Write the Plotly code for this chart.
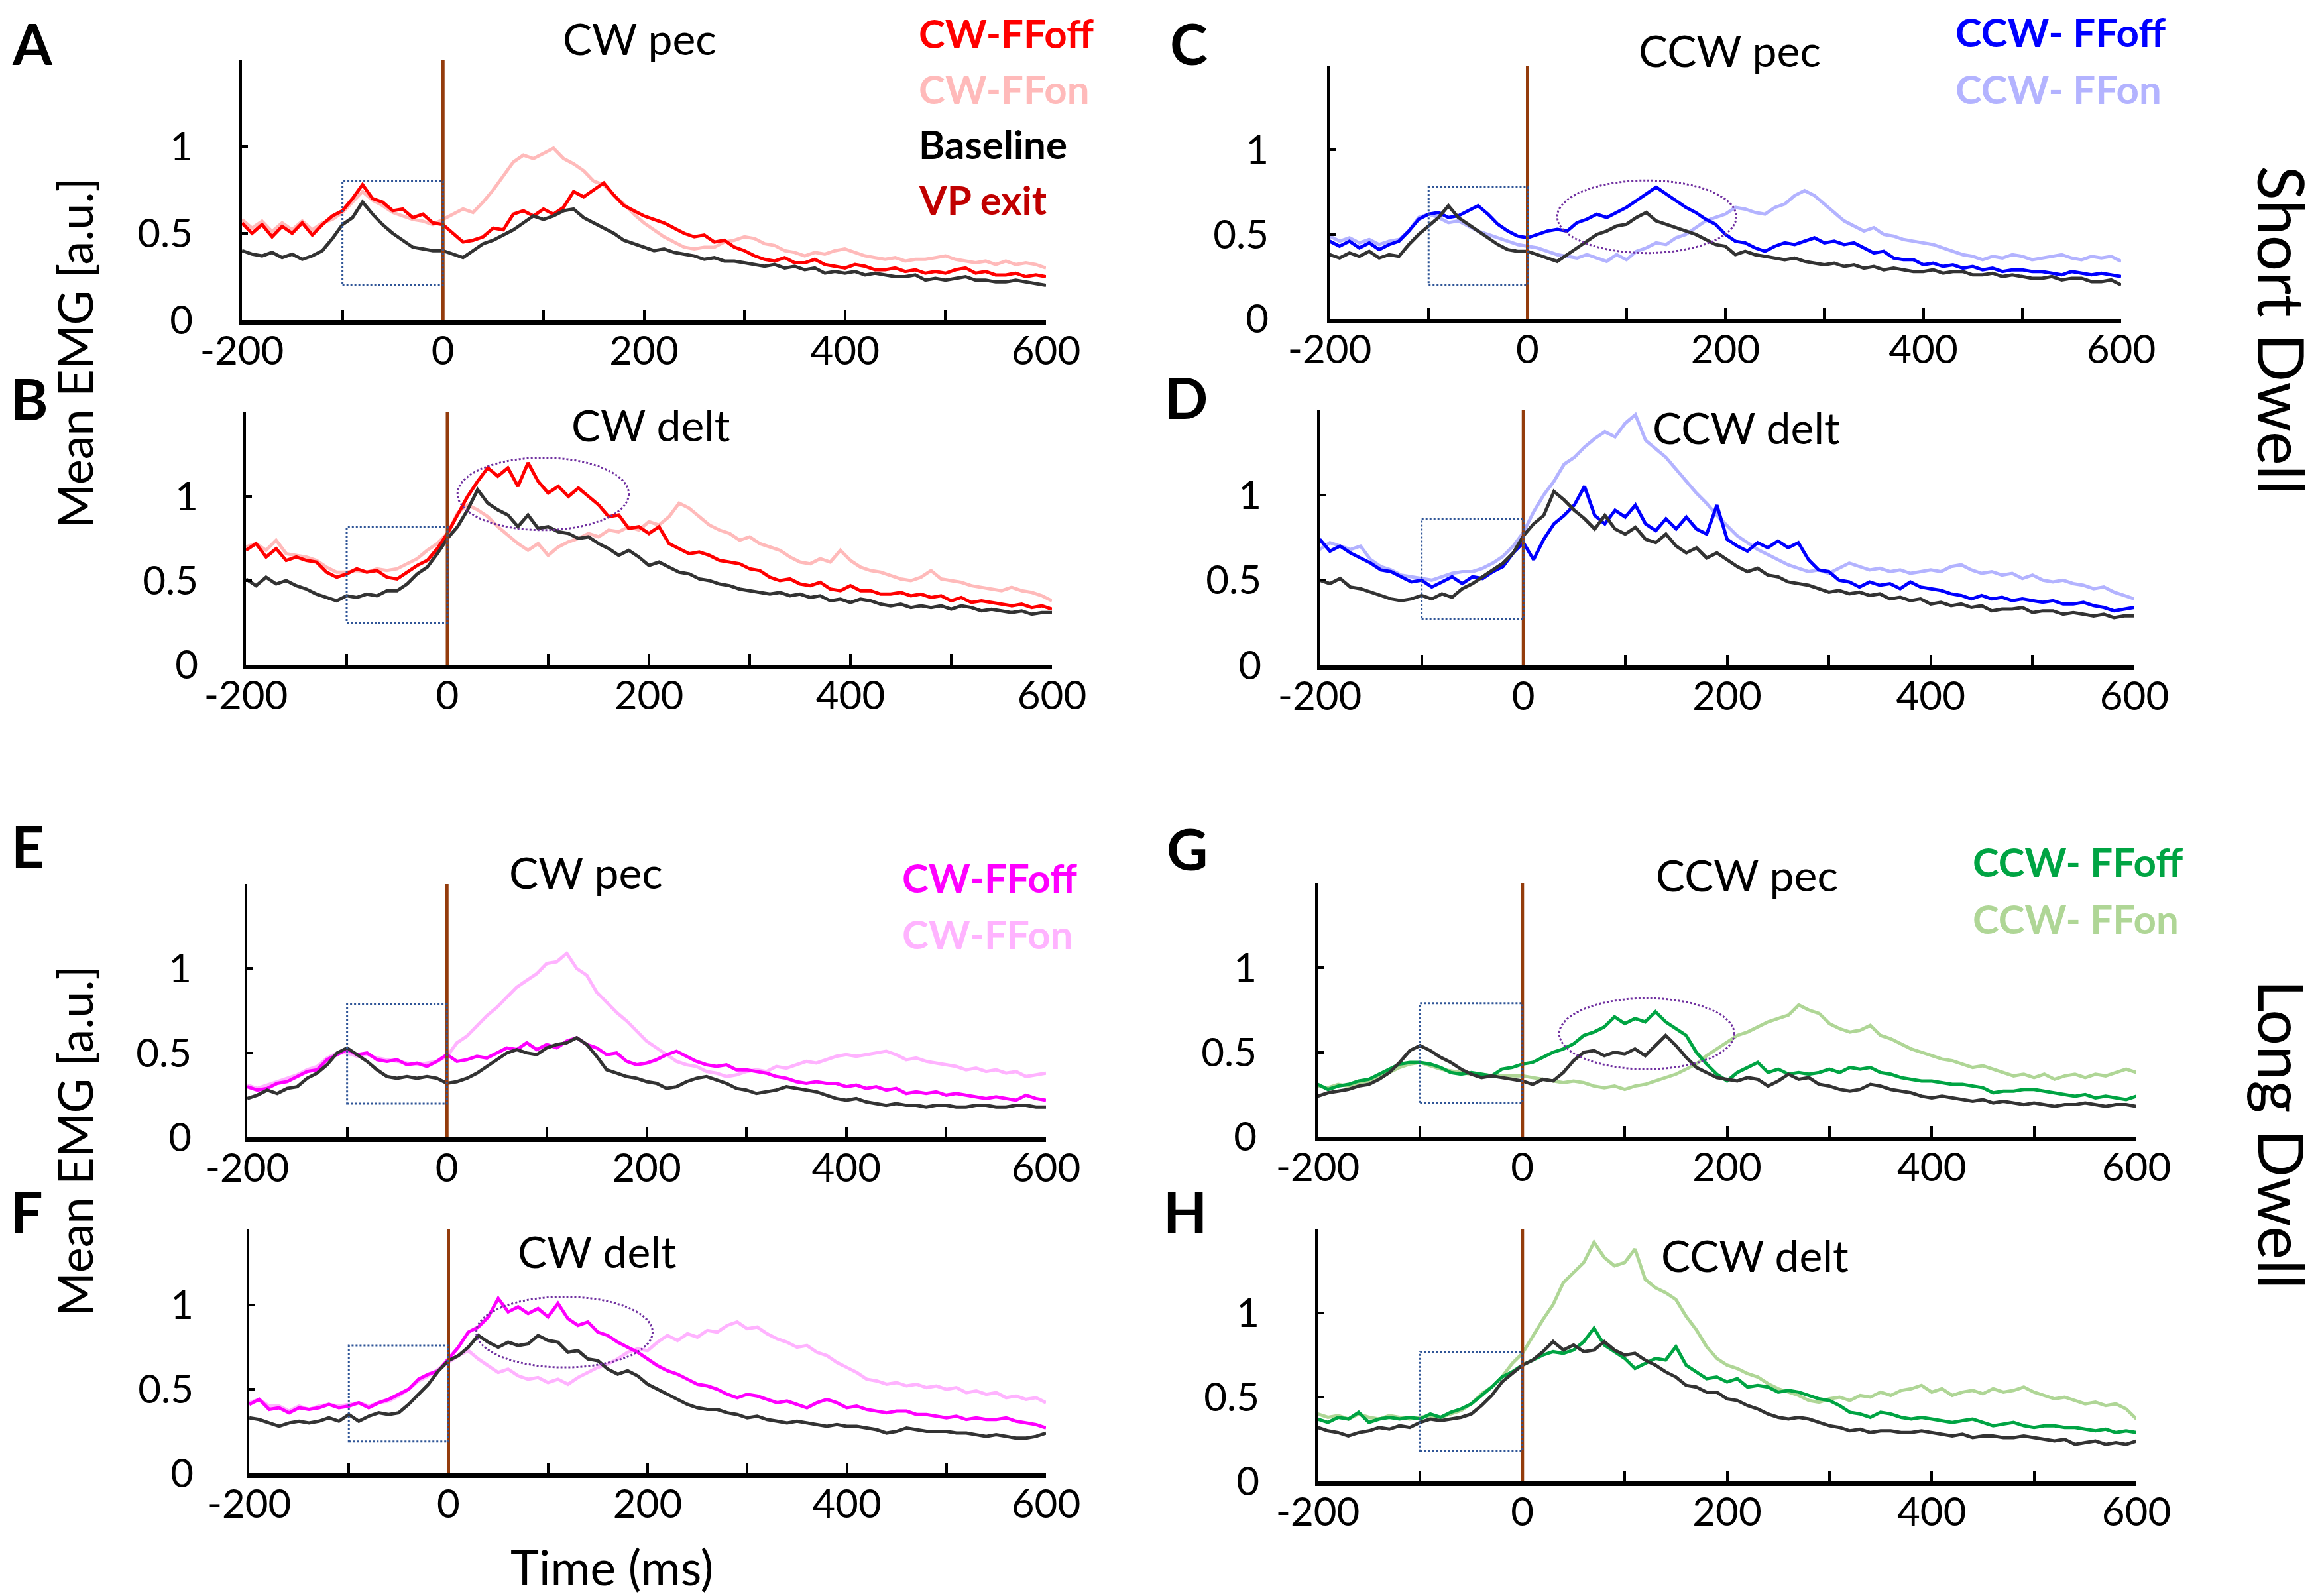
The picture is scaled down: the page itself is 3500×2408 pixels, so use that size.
import plotly.graph_objects as go

# time axis, ms (one value every 10 ms)
t = list(range(-200, 601, 10))

# ---- short dwell ----
cw_pec_short_off = [0.56, 0.50, 0.55, 0.48, 0.54, 0.50, 0.56, 0.49, 0.55, 0.60,
                    0.63, 0.70, 0.78, 0.70, 0.68, 0.63, 0.64, 0.59, 0.61, 0.56,
                    0.55, 0.50, 0.45, 0.46, 0.48, 0.53, 0.52, 0.61, 0.63, 0.60,
                    0.64, 0.61, 0.65, 0.74, 0.71, 0.75, 0.79, 0.72, 0.66, 0.63,
                    0.60, 0.58, 0.56, 0.53, 0.50, 0.48, 0.49, 0.45, 0.46, 0.42,
                    0.40, 0.37, 0.35, 0.34, 0.36, 0.33, 0.33, 0.35, 0.32, 0.31,
                    0.30, 0.32, 0.31, 0.29, 0.29, 0.30, 0.28, 0.29, 0.27, 0.28,
                    0.27, 0.29, 0.30, 0.27, 0.28, 0.26, 0.26, 0.27, 0.25, 0.26,
                    0.25]
cw_pec_short_on = [0.58, 0.53, 0.57, 0.51, 0.56, 0.52, 0.57, 0.52, 0.56, 0.58,
                   0.62, 0.68, 0.74, 0.69, 0.66, 0.62, 0.60, 0.58, 0.57, 0.55,
                   0.58, 0.61, 0.64, 0.62, 0.68, 0.75, 0.83, 0.91, 0.95, 0.93,
                   0.96, 0.99, 0.93, 0.90, 0.86, 0.80, 0.78, 0.72, 0.67, 0.61,
                   0.56, 0.52, 0.48, 0.45, 0.42, 0.41, 0.42, 0.42, 0.45, 0.46,
                   0.48, 0.47, 0.44, 0.43, 0.40, 0.39, 0.37, 0.39, 0.38, 0.40,
                   0.41, 0.39, 0.37, 0.36, 0.35, 0.36, 0.34, 0.35, 0.35, 0.36,
                   0.37, 0.35, 0.34, 0.33, 0.34, 0.32, 0.34, 0.32, 0.33, 0.32,
                   0.30]
cw_pec_short_base = [0.40, 0.38, 0.37, 0.39, 0.36, 0.38, 0.35, 0.37, 0.40, 0.47,
                     0.55, 0.59, 0.68, 0.61, 0.55, 0.50, 0.46, 0.42, 0.41, 0.40,
                     0.40, 0.38, 0.36, 0.40, 0.44, 0.46, 0.49, 0.52, 0.56, 0.60,
                     0.58, 0.60, 0.63, 0.64, 0.59, 0.56, 0.53, 0.50, 0.46, 0.44,
                     0.42, 0.40, 0.41, 0.39, 0.38, 0.37, 0.35, 0.36, 0.34, 0.34,
                     0.33, 0.32, 0.31, 0.32, 0.30, 0.31, 0.29, 0.30, 0.27, 0.28,
                     0.27, 0.28, 0.26, 0.27, 0.26, 0.25, 0.25, 0.26, 0.23, 0.24,
                     0.23, 0.24, 0.25, 0.23, 0.23, 0.22, 0.22, 0.23, 0.22, 0.21,
                     0.20]

cw_delt_short_off = [0.68, 0.72, 0.64, 0.69, 0.62, 0.64, 0.62, 0.61, 0.55, 0.52,
                     0.54, 0.57, 0.55, 0.56, 0.52, 0.51, 0.55, 0.59, 0.62, 0.69,
                     0.78, 0.89, 1.00, 1.09, 1.17, 1.12, 1.17, 1.06, 1.20, 1.09,
                     1.02, 1.06, 1.00, 1.05, 1.00, 0.95, 0.88, 0.89, 0.81, 0.82,
                     0.78, 0.82, 0.72, 0.69, 0.66, 0.67, 0.65, 0.62, 0.61, 0.60,
                     0.57, 0.56, 0.52, 0.50, 0.51, 0.48, 0.47, 0.49, 0.45, 0.44,
                     0.47, 0.44, 0.44, 0.42, 0.42, 0.43, 0.41, 0.42, 0.40, 0.41,
                     0.38, 0.40, 0.37, 0.38, 0.37, 0.36, 0.35, 0.36, 0.34, 0.35,
                     0.33]
cw_delt_short_on = [0.70, 0.72, 0.68, 0.74, 0.66, 0.65, 0.64, 0.62, 0.58, 0.55,
                    0.55, 0.56, 0.55, 0.57, 0.56, 0.57, 0.60, 0.63, 0.68, 0.72,
                    0.78, 0.90, 0.95, 0.92, 0.88, 0.82, 0.77, 0.72, 0.68, 0.72,
                    0.65, 0.70, 0.73, 0.75, 0.78, 0.76, 0.80, 0.79, 0.82, 0.80,
                    0.85, 0.83, 0.88, 0.96, 0.93, 0.88, 0.83, 0.80, 0.78, 0.74,
                    0.76, 0.72, 0.70, 0.68, 0.64, 0.61, 0.60, 0.63, 0.61, 0.68,
                    0.62, 0.58, 0.56, 0.55, 0.53, 0.51, 0.50, 0.52, 0.56, 0.51,
                    0.50, 0.49, 0.47, 0.46, 0.45, 0.44, 0.46, 0.44, 0.43, 0.41,
                    0.38]
cw_delt_short_base = [0.51, 0.47, 0.52, 0.48, 0.50, 0.47, 0.45, 0.42, 0.40, 0.38,
                      0.41, 0.40, 0.42, 0.41, 0.44, 0.44, 0.48, 0.54, 0.58, 0.66,
                      0.75, 0.82, 0.92, 1.04, 0.96, 0.92, 0.89, 0.82, 0.89, 0.81,
                      0.82, 0.79, 0.78, 0.75, 0.76, 0.72, 0.69, 0.65, 0.68, 0.64,
                      0.59, 0.61, 0.58, 0.55, 0.54, 0.51, 0.50, 0.48, 0.47, 0.45,
                      0.44, 0.43, 0.42, 0.43, 0.41, 0.42, 0.40, 0.41, 0.38, 0.39,
                      0.37, 0.39, 0.38, 0.36, 0.35, 0.36, 0.34, 0.35, 0.34, 0.35,
                      0.33, 0.35, 0.34, 0.32, 0.33, 0.32, 0.31, 0.32, 0.30, 0.31,
                      0.31]

ccw_pec_short_off = [0.46, 0.43, 0.46, 0.42, 0.45, 0.41, 0.44, 0.46, 0.52, 0.59,
                     0.62, 0.63, 0.60, 0.61, 0.64, 0.67, 0.62, 0.56, 0.52, 0.49,
                     0.48, 0.50, 0.52, 0.53, 0.52, 0.57, 0.59, 0.62, 0.60, 0.63,
                     0.66, 0.70, 0.74, 0.78, 0.74, 0.70, 0.66, 0.63, 0.59, 0.56,
                     0.50, 0.46, 0.45, 0.42, 0.40, 0.43, 0.45, 0.44, 0.46, 0.48,
                     0.45, 0.46, 0.44, 0.45, 0.42, 0.39, 0.40, 0.36, 0.35, 0.35,
                     0.32, 0.33, 0.31, 0.32, 0.30, 0.31, 0.29, 0.30, 0.28, 0.29,
                     0.29, 0.28, 0.28, 0.27, 0.26, 0.28, 0.27, 0.26, 0.27, 0.26,
                     0.25]
ccw_pec_short_on = [0.49, 0.46, 0.48, 0.45, 0.47, 0.44, 0.46, 0.47, 0.52, 0.60,
                    0.62, 0.60, 0.57, 0.58, 0.55, 0.52, 0.50, 0.48, 0.46, 0.44,
                    0.43, 0.42, 0.40, 0.38, 0.37, 0.36, 0.38, 0.36, 0.34, 0.38,
                    0.35, 0.40, 0.42, 0.45, 0.44, 0.48, 0.50, 0.54, 0.58, 0.60,
                    0.62, 0.66, 0.65, 0.63, 0.62, 0.66, 0.68, 0.73, 0.76, 0.73,
                    0.68, 0.63, 0.58, 0.55, 0.52, 0.54, 0.50, 0.49, 0.47, 0.46,
                    0.45, 0.44, 0.42, 0.40, 0.38, 0.37, 0.35, 0.37, 0.36, 0.38,
                    0.37, 0.35, 0.36, 0.37, 0.38, 0.36, 0.35, 0.37, 0.36, 0.37,
                    0.34]
ccw_pec_short_base = [0.38, 0.36, 0.39, 0.37, 0.40, 0.36, 0.38, 0.37, 0.44, 0.50,
                      0.55, 0.60, 0.67, 0.60, 0.56, 0.52, 0.48, 0.44, 0.41, 0.40,
                      0.40, 0.38, 0.36, 0.34, 0.38, 0.42, 0.46, 0.50, 0.52, 0.55,
                      0.56, 0.60, 0.63, 0.58, 0.56, 0.54, 0.52, 0.50, 0.47, 0.44,
                      0.43, 0.38, 0.40, 0.38, 0.37, 0.36, 0.35, 0.36, 0.34, 0.33,
                      0.32, 0.33, 0.31, 0.32, 0.30, 0.31, 0.29, 0.30, 0.29, 0.28,
                      0.28, 0.29, 0.27, 0.28, 0.28, 0.26, 0.26, 0.27, 0.25, 0.26,
                      0.25, 0.24, 0.24, 0.25, 0.23, 0.24, 0.24, 0.22, 0.22, 0.23,
                      0.20]

ccw_delt_short_off = [0.74, 0.67, 0.70, 0.66, 0.63, 0.60, 0.56, 0.55, 0.52, 0.49,
                      0.50, 0.46, 0.49, 0.52, 0.48, 0.52, 0.51, 0.55, 0.58, 0.66,
                      0.72, 0.62, 0.74, 0.83, 0.88, 0.94, 1.05, 0.88, 0.83, 0.91,
                      0.87, 0.94, 0.83, 0.79, 0.86, 0.80, 0.87, 0.80, 0.77, 0.94,
                      0.74, 0.70, 0.67, 0.72, 0.69, 0.73, 0.69, 0.72, 0.62, 0.56,
                      0.55, 0.50, 0.49, 0.46, 0.49, 0.47, 0.48, 0.45, 0.49, 0.46,
                      0.45, 0.44, 0.42, 0.41, 0.39, 0.41, 0.39, 0.40, 0.38, 0.39,
                      0.38, 0.37, 0.38, 0.36, 0.36, 0.37, 0.35, 0.34, 0.32, 0.33,
                      0.34]
ccw_delt_short_on = [0.68, 0.72, 0.70, 0.68, 0.70, 0.62, 0.58, 0.56, 0.53, 0.52,
                     0.51, 0.50, 0.52, 0.54, 0.55, 0.55, 0.57, 0.60, 0.64, 0.70,
                     0.78, 0.90, 1.00, 1.08, 1.18, 1.22, 1.28, 1.33, 1.37, 1.34,
                     1.42, 1.47, 1.32, 1.27, 1.22, 1.15, 1.08, 1.01, 0.95, 0.88,
                     0.82, 0.76, 0.72, 0.68, 0.65, 0.62, 0.59, 0.57, 0.55, 0.56,
                     0.54, 0.57, 0.60, 0.58, 0.56, 0.57, 0.55, 0.56, 0.54, 0.55,
                     0.56, 0.55, 0.58, 0.59, 0.56, 0.54, 0.55, 0.53, 0.54, 0.51,
                     0.53, 0.50, 0.49, 0.50, 0.48, 0.47, 0.45, 0.46, 0.43, 0.41,
                     0.39]
ccw_delt_short_base = [0.50, 0.48, 0.51, 0.46, 0.45, 0.43, 0.41, 0.39, 0.38, 0.39,
                       0.41, 0.39, 0.42, 0.40, 0.45, 0.48, 0.52, 0.56, 0.60, 0.66,
                       0.76, 0.83, 0.88, 1.02, 0.97, 0.91, 0.86, 0.80, 0.88, 0.80,
                       0.77, 0.81, 0.74, 0.72, 0.77, 0.70, 0.66, 0.69, 0.63, 0.66,
                       0.62, 0.58, 0.55, 0.57, 0.53, 0.52, 0.49, 0.48, 0.47, 0.45,
                       0.43, 0.44, 0.42, 0.43, 0.41, 0.42, 0.39, 0.40, 0.38, 0.39,
                       0.36, 0.37, 0.35, 0.36, 0.34, 0.35, 0.32, 0.33, 0.33, 0.34,
                       0.31, 0.32, 0.32, 0.30, 0.31, 0.30, 0.29, 0.30, 0.28, 0.29,
                       0.29]

# ---- long dwell ----
cw_pec_long_off = [0.30, 0.28, 0.29, 0.32, 0.33, 0.36, 0.39, 0.40, 0.46, 0.49,
                   0.52, 0.49, 0.50, 0.46, 0.45, 0.46, 0.43, 0.44, 0.42, 0.45,
                   0.49, 0.45, 0.46, 0.48, 0.47, 0.50, 0.53, 0.52, 0.56, 0.52,
                   0.55, 0.53, 0.57, 0.59, 0.55, 0.53, 0.49, 0.50, 0.45, 0.43,
                   0.44, 0.46, 0.49, 0.51, 0.48, 0.45, 0.43, 0.42, 0.43, 0.40,
                   0.40, 0.39, 0.38, 0.36, 0.35, 0.33, 0.32, 0.33, 0.32, 0.32,
                   0.30, 0.31, 0.29, 0.30, 0.28, 0.29, 0.26, 0.27, 0.26, 0.27,
                   0.25, 0.26, 0.25, 0.24, 0.23, 0.24, 0.23, 0.22, 0.25, 0.23,
                   0.22]
cw_pec_long_on = [0.31, 0.29, 0.31, 0.33, 0.35, 0.37, 0.40, 0.42, 0.47, 0.50,
                  0.50, 0.48, 0.49, 0.47, 0.46, 0.45, 0.44, 0.43, 0.44, 0.45,
                  0.48, 0.56, 0.60, 0.66, 0.72, 0.77, 0.83, 0.89, 0.93, 0.97,
                  1.03, 1.04, 1.09, 1.00, 0.96, 0.86, 0.80, 0.74, 0.69, 0.63,
                  0.57, 0.53, 0.49, 0.45, 0.43, 0.42, 0.39, 0.38, 0.36, 0.37,
                  0.39, 0.40, 0.39, 0.42, 0.41, 0.43, 0.45, 0.44, 0.46, 0.48,
                  0.49, 0.48, 0.49, 0.50, 0.51, 0.49, 0.46, 0.47, 0.45, 0.44,
                  0.43, 0.42, 0.40, 0.41, 0.39, 0.40, 0.38, 0.39, 0.36, 0.37,
                  0.38]
cw_pec_long_base = [0.23, 0.25, 0.28, 0.26, 0.29, 0.30, 0.35, 0.38, 0.43, 0.50,
                    0.53, 0.49, 0.45, 0.40, 0.36, 0.35, 0.36, 0.35, 0.36, 0.35,
                    0.32, 0.33, 0.35, 0.38, 0.42, 0.46, 0.50, 0.52, 0.50, 0.49,
                    0.53, 0.55, 0.56, 0.59, 0.55, 0.48, 0.40, 0.38, 0.36, 0.35,
                    0.33, 0.32, 0.29, 0.30, 0.33, 0.35, 0.36, 0.34, 0.32, 0.29,
                    0.28, 0.26, 0.27, 0.28, 0.30, 0.29, 0.28, 0.27, 0.25, 0.23,
                    0.22, 0.23, 0.21, 0.20, 0.19, 0.20, 0.19, 0.19, 0.18, 0.19,
                    0.19, 0.18, 0.18, 0.19, 0.19, 0.18, 0.18, 0.19, 0.19, 0.18,
                    0.18]

cw_delt_long_off = [0.41, 0.44, 0.38, 0.39, 0.36, 0.39, 0.38, 0.39, 0.41, 0.39,
                    0.40, 0.42, 0.39, 0.42, 0.44, 0.47, 0.50, 0.56, 0.59, 0.61,
                    0.68, 0.75, 0.84, 0.87, 0.93, 1.04, 0.96, 0.99, 0.95, 0.98,
                    0.93, 1.01, 0.92, 0.88, 0.90, 0.84, 0.82, 0.78, 0.75, 0.72,
                    0.68, 0.64, 0.61, 0.59, 0.56, 0.53, 0.52, 0.50, 0.47, 0.45,
                    0.47, 0.46, 0.44, 0.42, 0.43, 0.41, 0.39, 0.42, 0.44, 0.42,
                    0.39, 0.40, 0.38, 0.37, 0.36, 0.37, 0.37, 0.35, 0.35, 0.34,
                    0.33, 0.34, 0.32, 0.33, 0.32, 0.32, 0.33, 0.31, 0.30, 0.29,
                    0.27]
cw_delt_long_on = [0.42, 0.44, 0.40, 0.40, 0.37, 0.40, 0.38, 0.40, 0.41, 0.40,
                   0.41, 0.42, 0.40, 0.42, 0.43, 0.46, 0.50, 0.55, 0.58, 0.62,
                   0.66, 0.70, 0.73, 0.68, 0.64, 0.60, 0.62, 0.58, 0.56, 0.57,
                   0.54, 0.56, 0.53, 0.57, 0.60, 0.63, 0.65, 0.68, 0.72, 0.74,
                   0.73, 0.78, 0.82, 0.79, 0.83, 0.81, 0.85, 0.84, 0.88, 0.90,
                   0.86, 0.87, 0.83, 0.80, 0.78, 0.75, 0.76, 0.72, 0.70, 0.66,
                   0.63, 0.60, 0.56, 0.55, 0.53, 0.54, 0.52, 0.53, 0.51, 0.52,
                   0.50, 0.51, 0.48, 0.49, 0.47, 0.48, 0.45, 0.46, 0.44, 0.45,
                   0.42]
cw_delt_long_base = [0.33, 0.32, 0.30, 0.28, 0.30, 0.31, 0.30, 0.31, 0.33, 0.31,
                     0.35, 0.31, 0.34, 0.36, 0.35, 0.36, 0.41, 0.47, 0.53, 0.61,
                     0.67, 0.70, 0.75, 0.82, 0.78, 0.75, 0.78, 0.76, 0.77, 0.82,
                     0.79, 0.78, 0.72, 0.73, 0.68, 0.67, 0.62, 0.59, 0.61, 0.58,
                     0.53, 0.50, 0.47, 0.44, 0.41, 0.39, 0.38, 0.38, 0.36, 0.35,
                     0.33, 0.34, 0.32, 0.31, 0.30, 0.31, 0.30, 0.29, 0.28, 0.29,
                     0.28, 0.28, 0.27, 0.26, 0.24, 0.25, 0.27, 0.26, 0.25, 0.25,
                     0.25, 0.24, 0.24, 0.23, 0.22, 0.23, 0.22, 0.21, 0.21, 0.22,
                     0.24]

ccw_pec_long_off = [0.31, 0.28, 0.30, 0.31, 0.33, 0.34, 0.37, 0.40, 0.43, 0.44,
                    0.44, 0.43, 0.41, 0.38, 0.37, 0.38, 0.37, 0.36, 0.40, 0.41,
                    0.43, 0.44, 0.47, 0.50, 0.52, 0.55, 0.60, 0.62, 0.65, 0.71,
                    0.67, 0.70, 0.68, 0.74, 0.68, 0.64, 0.60, 0.50, 0.43, 0.37,
                    0.33, 0.38, 0.41, 0.44, 0.38, 0.40, 0.37, 0.38, 0.37, 0.38,
                    0.40, 0.38, 0.41, 0.40, 0.41, 0.38, 0.37, 0.35, 0.34, 0.33,
                    0.33, 0.32, 0.31, 0.31, 0.30, 0.29, 0.26, 0.27, 0.27, 0.28,
                    0.28, 0.27, 0.26, 0.25, 0.24, 0.25, 0.23, 0.24, 0.23, 0.22,
                    0.24]
ccw_pec_long_on = [0.30, 0.29, 0.31, 0.30, 0.32, 0.33, 0.35, 0.38, 0.41, 0.43,
                   0.44, 0.42, 0.40, 0.39, 0.38, 0.37, 0.37, 0.36, 0.36, 0.36,
                   0.36, 0.35, 0.34, 0.33, 0.32, 0.33, 0.32, 0.30, 0.29, 0.30,
                   0.28, 0.30, 0.31, 0.33, 0.35, 0.37, 0.40, 0.43, 0.48, 0.52,
                   0.56, 0.60, 0.62, 0.65, 0.68, 0.70, 0.72, 0.78, 0.75, 0.73,
                   0.67, 0.64, 0.62, 0.63, 0.66, 0.60, 0.58, 0.55, 0.52, 0.50,
                   0.48, 0.46, 0.45, 0.43, 0.41, 0.42, 0.40, 0.38, 0.36, 0.37,
                   0.35, 0.37, 0.34, 0.36, 0.37, 0.35, 0.37, 0.36, 0.38, 0.40,
                   0.38]
ccw_pec_long_base = [0.24, 0.26, 0.27, 0.28, 0.30, 0.31, 0.34, 0.38, 0.44, 0.51,
                     0.54, 0.51, 0.47, 0.44, 0.40, 0.37, 0.35, 0.36, 0.35, 0.34,
                     0.33, 0.31, 0.34, 0.33, 0.38, 0.45, 0.50, 0.51, 0.48, 0.50,
                     0.49, 0.52, 0.48, 0.54, 0.60, 0.54, 0.47, 0.41, 0.38, 0.35,
                     0.34, 0.33, 0.35, 0.34, 0.30, 0.33, 0.37, 0.34, 0.35, 0.31,
                     0.30, 0.28, 0.27, 0.28, 0.31, 0.30, 0.28, 0.27, 0.26, 0.24,
                     0.23, 0.24, 0.23, 0.22, 0.21, 0.22, 0.20, 0.21, 0.20, 0.19,
                     0.20, 0.19, 0.18, 0.19, 0.19, 0.20, 0.19, 0.18, 0.19, 0.19,
                     0.18]

ccw_delt_long_off = [0.37, 0.35, 0.38, 0.37, 0.41, 0.35, 0.37, 0.38, 0.37, 0.38,
                     0.37, 0.40, 0.38, 0.41, 0.43, 0.46, 0.51, 0.56, 0.62, 0.65,
                     0.69, 0.72, 0.75, 0.77, 0.76, 0.78, 0.83, 0.91, 0.81, 0.77,
                     0.73, 0.67, 0.70, 0.73, 0.72, 0.80, 0.69, 0.65, 0.61, 0.62,
                     0.59, 0.61, 0.56, 0.57, 0.56, 0.53, 0.54, 0.53, 0.51, 0.49,
                     0.48, 0.45, 0.41, 0.40, 0.38, 0.41, 0.40, 0.38, 0.37, 0.38,
                     0.37, 0.36, 0.35, 0.36, 0.37, 0.35, 0.33, 0.34, 0.35, 0.33,
                     0.32, 0.33, 0.33, 0.32, 0.32, 0.31, 0.30, 0.31, 0.29, 0.30,
                     0.29]
ccw_delt_long_on = [0.40, 0.38, 0.39, 0.37, 0.40, 0.38, 0.37, 0.39, 0.38, 0.37,
                    0.38, 0.39, 0.38, 0.40, 0.42, 0.46, 0.52, 0.56, 0.62, 0.70,
                    0.76, 0.86, 0.96, 1.05, 1.18, 1.24, 1.30, 1.42, 1.33, 1.28,
                    1.30, 1.38, 1.20, 1.15, 1.12, 1.08, 0.98, 0.90, 0.80, 0.73,
                    0.69, 0.67, 0.64, 0.62, 0.58, 0.55, 0.53, 0.51, 0.48, 0.47,
                    0.49, 0.50, 0.48, 0.51, 0.50, 0.53, 0.51, 0.54, 0.55, 0.57,
                    0.53, 0.55, 0.51, 0.53, 0.54, 0.52, 0.55, 0.53, 0.54, 0.56,
                    0.53, 0.51, 0.49, 0.50, 0.48, 0.46, 0.47, 0.45, 0.46, 0.43,
                    0.37]
ccw_delt_long_base = [0.32, 0.30, 0.29, 0.27, 0.29, 0.30, 0.32, 0.31, 0.33, 0.32,
                      0.35, 0.37, 0.36, 0.37, 0.38, 0.40, 0.45, 0.51, 0.59, 0.64,
                      0.69, 0.72, 0.77, 0.83, 0.78, 0.81, 0.77, 0.78, 0.83, 0.78,
                      0.75, 0.76, 0.72, 0.69, 0.65, 0.62, 0.57, 0.56, 0.53, 0.53,
                      0.49, 0.48, 0.45, 0.43, 0.40, 0.38, 0.37, 0.38, 0.37, 0.35,
                      0.33, 0.32, 0.30, 0.31, 0.29, 0.30, 0.30, 0.29, 0.29, 0.30,
                      0.29, 0.28, 0.27, 0.28, 0.26, 0.27, 0.27, 0.26, 0.26, 0.27,
                      0.26, 0.25, 0.24, 0.25, 0.22, 0.23, 0.24, 0.22, 0.23, 0.22,
                      0.24]

x_tickvals = [-200, -100, 0, 100, 200, 300, 400, 500, 600]
x_ticktext = ["-200", "", "0", "", "200", "", "400", "", "600"]
y_tickvals = [0, 0.5, 1, 1.5]
y_ticktext = ["0", "0.5", "1", ""]

W, H = 3500, 2408
FONT = "Lato"
BASE_COLOR = "#333333"

red, pink = "#FF0000", "#FFBABA"
blue, lblue = "#0000FF", "#B3B3FF"
mag, lmag = "#FF00FF", "#FFB3FF"
green, lgreen = "#00A443", "#AFD696"

# panel: letter, title, series, colours, pixel box (x-200, x600, y0, ytop), ymax, boxes
panels = [
    dict(letter="A", title="CW pec", on=cw_pec_short_on, off=cw_pec_short_off, base=cw_pec_short_base,
         c_on=pink, c_off=red, px=(357, 1570, 475, 82), ymax=1.5, rect=(0.20, 0.80), ell=None,
         lpos=(41, 56), tpos=(957, 49), standoff=58),
    dict(letter="B", title="CW delt", on=cw_delt_short_on, off=cw_delt_short_off, base=cw_delt_short_base,
         c_on=pink, c_off=red, px=(363, 1579, 995, 614), ymax=1.5, rect=(0.25, 0.82), ell=(10, 180, 0.80, 1.23),
         lpos=(36, 592), tpos=(973, 632), standoff=56),
    dict(letter="C", title="CCW pec", on=ccw_pec_short_on, off=ccw_pec_short_off, base=ccw_pec_short_base,
         c_on=lblue, c_off=blue, px=(1998, 3192, 473, 91), ymax=1.5, rect=(0.20, 0.78), ell=(30, 211, 0.39, 0.82),
         lpos=(1786, 56), tpos=(2601, 67), standoff=76),
    dict(letter="D", title="CCW delt", on=ccw_delt_short_on, off=ccw_delt_short_off, base=ccw_delt_short_base,
         c_on=lblue, c_off=blue, px=(1983, 3212, 996, 610), ymax=1.5, rect=(0.27, 0.86), ell=None,
         lpos=(1781, 590), tpos=(2626, 636), standoff=72),
    dict(letter="E", title="CW pec", on=cw_pec_long_on, off=cw_pec_long_off, base=cw_pec_long_base,
         c_on=lmag, c_off=mag, px=(365, 1570, 1708, 1326), ymax=1.5, rect=(0.20, 0.79), ell=None,
         lpos=(33, 1268), tpos=(876, 1307), standoff=68),
    dict(letter="F", title="CW delt", on=cw_delt_long_on, off=cw_delt_long_off, base=cw_delt_long_base,
         c_on=lmag, c_off=mag, px=(368, 1570, 2215, 1847), ymax=1.45, rect=(0.19, 0.76), ell=(28, 205, 0.63, 1.05),
         lpos=(32, 1818), tpos=(893, 1879), standoff=68),
    dict(letter="G", title="CCW pec", on=ccw_pec_long_on, off=ccw_pec_long_off, base=ccw_pec_long_base,
         c_on=lgreen, c_off=green, px=(1980, 3215, 1707, 1325), ymax=1.5, rect=(0.20, 0.79), ell=(36, 207, 0.40, 0.82),
         lpos=(1783, 1271), tpos=(2627, 1311), standoff=76),
    dict(letter="H", title="CCW delt", on=ccw_delt_long_on, off=ccw_delt_long_off, base=ccw_delt_long_base,
         c_on=lgreen, c_off=green, px=(1980, 3215, 2227, 1846), ymax=1.5, rect=(0.18, 0.77), ell=None,
         lpos=(1780, 1818), tpos=(2639, 1885), standoff=72),
]


def pxx(x):
    return x / W


def pxy(y):
    return 1 - y / H


fig = go.Figure()
shapes = []
annotations = []
layout = {}

for i, p in enumerate(panels, start=1):
    sfx = "" if i == 1 else str(i)
    xa, ya = "x" + sfx, "y" + sfx
    for ys, col in [(p["on"], p["c_on"]), (p["off"], p["c_off"]), (p["base"], BASE_COLOR)]:
        fig.add_trace(go.Scatter(x=t, y=ys, mode="lines", xaxis=xa, yaxis=ya,
                                 line=dict(color=col, width=5), hoverinfo="skip"))

    x0, x1, y0, ytop = p["px"]
    layout["xaxis" + sfx] = dict(
        domain=[pxx(x0), pxx(x1)], anchor=ya, range=[-200, 600], automargin=False,
        showgrid=False, zeroline=False, showline=True, linecolor="black", linewidth=7,
        ticks="inside", ticklen=16, tickwidth=4, tickcolor="black",
        tickvals=x_tickvals, ticktext=x_ticktext, ticklabelstandoff=-12,
        tickfont=dict(family=FONT, size=60, color="black"))
    layout["yaxis" + sfx] = dict(
        domain=[pxy(y0), pxy(ytop)], anchor=xa, range=[0, p["ymax"]], automargin=False,
        showgrid=False, zeroline=False, showline=True, linecolor="black", linewidth=4,
        ticks="inside", ticklen=9, tickwidth=4, tickcolor="black",
        tickvals=y_tickvals, ticktext=y_ticktext, ticklabelstandoff=p["standoff"],
        tickfont=dict(family=FONT, size=60, color="black"))

    # VP exit line
    shapes.append(dict(type="line", xref=xa, yref=ya, x0=0, x1=0, y0=0, y1=p["ymax"],
                       line=dict(color="#943C0C", width=5), layer="above"))
    # dotted window before exit
    r0, r1 = p["rect"]
    shapes.append(dict(type="rect", xref=xa, yref=ya, x0=-100, x1=0, y0=r0, y1=r1,
                       line=dict(color="#2F5597", width=3, dash="dot"), layer="above"))
    if p["ell"]:
        e = p["ell"]
        shapes.append(dict(type="circle", xref=xa, yref=ya, x0=e[0], x1=e[1], y0=e[2], y1=e[3],
                           line=dict(color="#7030A0", width=3, dash="dot"), layer="above"))

    annotations.append(dict(text="<b>%s</b>" % p["letter"], x=pxx(p["lpos"][0]), y=pxy(p["lpos"][1]),
                            xref="paper", yref="paper", showarrow=False, xanchor="center", yanchor="middle",
                            borderpad=0, font=dict(family=FONT, size=86, color="black")))
    annotations.append(dict(text=p["title"], x=pxx(p["tpos"][0]), y=pxy(p["tpos"][1]),
                            xref="paper", yref="paper", showarrow=False, xanchor="center", yanchor="middle",
                            font=dict(family=FONT, size=66, color="black")))

legend_items = [
    ("CW-FFoff", red, 1376, 42), ("CW-FFon", pink, 1376, 126),
    ("Baseline", "black", 1376, 209), ("VP exit", "#C00000", 1376, 293),
    ("CCW- FFoff", blue, 2940, 40), ("CCW- FFon", lblue, 2940, 126),
    ("CW-FFoff", mag, 1351, 1316), ("CW-FFon", lmag, 1351, 1401),
    ("CCW- FFoff", green, 2966, 1292), ("CCW- FFon", lgreen, 2966, 1378),
]
for txt, col, lx, ly in legend_items:
    annotations.append(dict(text="<b>%s</b>" % txt, x=pxx(lx), y=pxy(ly), xref="paper", yref="paper",
                            showarrow=False, xanchor="left", yanchor="middle",
                            font=dict(family=FONT, size=60, color=col)))

for txt, ax, ay, ang, size in [("Mean EMG [a.u.]", 104, 525, -90, 72),
                               ("Mean EMG [a.u.]", 104, 1714, -90, 72),
                               ("Time (ms)", 915, 2356, 0, 73),
                               ("Short Dwell", 3436, 490, 90, 96),
                               ("Long Dwell", 3436, 1703, 90, 95)]:
    annotations.append(dict(text=txt, x=pxx(ax), y=pxy(ay), xref="paper", yref="paper",
                            showarrow=False, xanchor="center", yanchor="middle", textangle=ang,
                            font=dict(family=FONT, size=size, color="black")))

fig.update_layout(width=W, height=H, margin=dict(l=0, r=0, t=0, b=0, autoexpand=False),
                  paper_bgcolor="white", plot_bgcolor="white", showlegend=False,
                  shapes=shapes, annotations=annotations, **layout)

fig.write_html("out.html")
